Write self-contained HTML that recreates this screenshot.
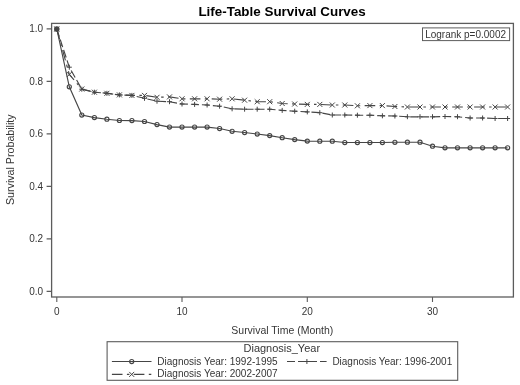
<!DOCTYPE html>
<html><head><meta charset="utf-8"><title>Life-Table Survival Curves</title>
<style>
html,body{margin:0;padding:0;background:#fff;overflow:hidden;}
svg{display:block;filter:grayscale(1) blur(0.3px);font-family:"Liberation Sans",sans-serif;}
</style></head>
<body>
<svg width="520" height="385" viewBox="0 0 520 385">
<rect x="0" y="0" width="520" height="385" fill="#fff"/>
<rect x="51.6" y="23.4" width="461.79999999999995" height="273.6" fill="#fff" stroke="#5c5c5c" stroke-width="1.3"/>
<path d="M46.6 291.4H51.6M46.6 238.9H51.6M46.6 186.4H51.6M46.6 133.9H51.6M46.6 81.4H51.6M46.6 28.9H51.6M56.8 297.0V302.0M182.0 297.0V302.0M307.3 297.0V302.0M432.5 297.0V302.0" stroke="#5c5c5c" stroke-width="1.1" fill="none"/>
<text x="43.2" y="294.8" text-anchor="end" font-size="10" fill="#363636">0.0</text>
<text x="43.2" y="242.3" text-anchor="end" font-size="10" fill="#363636">0.2</text>
<text x="43.2" y="189.8" text-anchor="end" font-size="10" fill="#363636">0.4</text>
<text x="43.2" y="137.3" text-anchor="end" font-size="10" fill="#363636">0.6</text>
<text x="43.2" y="84.8" text-anchor="end" font-size="10" fill="#363636">0.8</text>
<text x="43.2" y="32.3" text-anchor="end" font-size="10" fill="#363636">1.0</text>
<text x="56.8" y="314.6" text-anchor="middle" font-size="10" fill="#363636">0</text>
<text x="182.0" y="314.6" text-anchor="middle" font-size="10" fill="#363636">10</text>
<text x="307.3" y="314.6" text-anchor="middle" font-size="10" fill="#363636">20</text>
<text x="432.5" y="314.6" text-anchor="middle" font-size="10" fill="#363636">30</text>
<polyline points="56.8,29.0 69.3,86.8 81.8,115.1 94.4,117.6 106.9,119.2 119.4,120.5 131.9,120.6 144.5,121.5 157.0,124.6 169.5,127.1 182.0,127.1 194.6,127.1 207.1,127.1 219.6,128.5 232.1,131.3 244.6,132.5 257.2,134.0 269.7,135.6 282.2,137.7 294.7,139.6 307.3,141.1 319.8,141.2 332.3,141.2 344.8,142.5 357.4,142.5 369.9,142.5 382.4,142.5 394.9,142.3 407.4,142.2 420.0,142.2 432.5,146.2 445.0,147.8 457.5,147.8 470.1,147.8 482.6,147.8 495.1,147.8 507.6,147.8" fill="none" stroke="#454545" stroke-width="1.15"/>
<polyline points="56.8,29.0 69.3,67.2 81.8,89.2 94.4,92.2 106.9,93.3 119.4,94.9 131.9,95.4 144.5,98.3 157.0,101.2 169.5,101.7 182.0,104.0 194.6,104.4 207.1,105.0 219.6,106.2 232.1,108.8 244.6,109.2 257.2,109.2 269.7,109.2 282.2,110.4 294.7,111.2 307.3,111.9 319.8,112.7 332.3,115.0 344.8,115.0 357.4,115.2 369.9,115.2 382.4,115.8 394.9,116.0 407.4,116.8 420.0,116.8 432.5,116.8 445.0,116.5 457.5,116.8 470.1,118.0 482.6,118.0 495.1,118.5 507.6,118.5" fill="none" stroke="#454545" stroke-width="1.15" stroke-dasharray="8 3"/>
<polyline points="56.8,29.0 69.3,74.5 81.8,89.0 94.4,92.2 106.9,93.3 119.4,94.9 131.9,95.4 144.5,95.4 157.0,97.3 169.5,96.9 182.0,98.8 194.6,98.8 207.1,98.8 219.6,99.2 232.1,98.8 244.6,100.2 257.2,101.7 269.7,101.7 282.2,103.5 294.7,104.0 307.3,104.4 319.8,104.4 332.3,105.0 344.8,105.0 357.4,105.8 369.9,105.6 382.4,105.6 394.9,106.5 407.4,107.0 420.0,107.0 432.5,107.0 445.0,107.0 457.5,107.0 470.1,107.0 482.6,107.0 495.1,107.0 507.6,107.0" fill="none" stroke="#454545" stroke-width="1.15" stroke-dasharray="10.6 4.4 2.5 4.4"/>
<circle cx="56.8" cy="29.0" r="2.05" fill="none" stroke="#454545" stroke-width="1.15"/><circle cx="69.3" cy="86.8" r="2.05" fill="none" stroke="#454545" stroke-width="1.15"/><circle cx="81.8" cy="115.1" r="2.05" fill="none" stroke="#454545" stroke-width="1.15"/><circle cx="94.4" cy="117.6" r="2.05" fill="none" stroke="#454545" stroke-width="1.15"/><circle cx="106.9" cy="119.2" r="2.05" fill="none" stroke="#454545" stroke-width="1.15"/><circle cx="119.4" cy="120.5" r="2.05" fill="none" stroke="#454545" stroke-width="1.15"/><circle cx="131.9" cy="120.6" r="2.05" fill="none" stroke="#454545" stroke-width="1.15"/><circle cx="144.5" cy="121.5" r="2.05" fill="none" stroke="#454545" stroke-width="1.15"/><circle cx="157.0" cy="124.6" r="2.05" fill="none" stroke="#454545" stroke-width="1.15"/><circle cx="169.5" cy="127.1" r="2.05" fill="none" stroke="#454545" stroke-width="1.15"/><circle cx="182.0" cy="127.1" r="2.05" fill="none" stroke="#454545" stroke-width="1.15"/><circle cx="194.6" cy="127.1" r="2.05" fill="none" stroke="#454545" stroke-width="1.15"/><circle cx="207.1" cy="127.1" r="2.05" fill="none" stroke="#454545" stroke-width="1.15"/><circle cx="219.6" cy="128.5" r="2.05" fill="none" stroke="#454545" stroke-width="1.15"/><circle cx="232.1" cy="131.3" r="2.05" fill="none" stroke="#454545" stroke-width="1.15"/><circle cx="244.6" cy="132.5" r="2.05" fill="none" stroke="#454545" stroke-width="1.15"/><circle cx="257.2" cy="134.0" r="2.05" fill="none" stroke="#454545" stroke-width="1.15"/><circle cx="269.7" cy="135.6" r="2.05" fill="none" stroke="#454545" stroke-width="1.15"/><circle cx="282.2" cy="137.7" r="2.05" fill="none" stroke="#454545" stroke-width="1.15"/><circle cx="294.7" cy="139.6" r="2.05" fill="none" stroke="#454545" stroke-width="1.15"/><circle cx="307.3" cy="141.1" r="2.05" fill="none" stroke="#454545" stroke-width="1.15"/><circle cx="319.8" cy="141.2" r="2.05" fill="none" stroke="#454545" stroke-width="1.15"/><circle cx="332.3" cy="141.2" r="2.05" fill="none" stroke="#454545" stroke-width="1.15"/><circle cx="344.8" cy="142.5" r="2.05" fill="none" stroke="#454545" stroke-width="1.15"/><circle cx="357.4" cy="142.5" r="2.05" fill="none" stroke="#454545" stroke-width="1.15"/><circle cx="369.9" cy="142.5" r="2.05" fill="none" stroke="#454545" stroke-width="1.15"/><circle cx="382.4" cy="142.5" r="2.05" fill="none" stroke="#454545" stroke-width="1.15"/><circle cx="394.9" cy="142.3" r="2.05" fill="none" stroke="#454545" stroke-width="1.15"/><circle cx="407.4" cy="142.2" r="2.05" fill="none" stroke="#454545" stroke-width="1.15"/><circle cx="420.0" cy="142.2" r="2.05" fill="none" stroke="#454545" stroke-width="1.15"/><circle cx="432.5" cy="146.2" r="2.05" fill="none" stroke="#454545" stroke-width="1.15"/><circle cx="445.0" cy="147.8" r="2.05" fill="none" stroke="#454545" stroke-width="1.15"/><circle cx="457.5" cy="147.8" r="2.05" fill="none" stroke="#454545" stroke-width="1.15"/><circle cx="470.1" cy="147.8" r="2.05" fill="none" stroke="#454545" stroke-width="1.15"/><circle cx="482.6" cy="147.8" r="2.05" fill="none" stroke="#454545" stroke-width="1.15"/><circle cx="495.1" cy="147.8" r="2.05" fill="none" stroke="#454545" stroke-width="1.15"/><circle cx="507.6" cy="147.8" r="2.05" fill="none" stroke="#454545" stroke-width="1.15"/>
<path d="M54.3 29.0H59.3M56.8 26.5V31.5M66.8 67.2H71.8M69.3 64.7V69.7M79.3 89.2H84.3M81.8 86.7V91.7M91.9 92.2H96.9M94.4 89.7V94.7M104.4 93.3H109.4M106.9 90.8V95.8M116.9 94.9H121.9M119.4 92.4V97.4M129.4 95.4H134.4M131.9 92.9V97.9M142.0 98.3H147.0M144.5 95.8V100.8M154.5 101.2H159.5M157.0 98.7V103.7M167.0 101.7H172.0M169.5 99.2V104.2M179.5 104.0H184.5M182.0 101.5V106.5M192.1 104.4H197.1M194.6 101.9V106.9M204.6 105.0H209.6M207.1 102.5V107.5M217.1 106.2H222.1M219.6 103.7V108.7M229.6 108.8H234.6M232.1 106.3V111.3M242.1 109.2H247.1M244.6 106.7V111.7M254.7 109.2H259.7M257.2 106.7V111.7M267.2 109.2H272.2M269.7 106.7V111.7M279.7 110.4H284.7M282.2 107.9V112.9M292.2 111.2H297.2M294.7 108.7V113.7M304.8 111.9H309.8M307.3 109.4V114.4M317.3 112.7H322.3M319.8 110.2V115.2M329.8 115.0H334.8M332.3 112.5V117.5M342.3 115.0H347.3M344.8 112.5V117.5M354.9 115.2H359.9M357.4 112.7V117.7M367.4 115.2H372.4M369.9 112.7V117.7M379.9 115.8H384.9M382.4 113.3V118.3M392.4 116.0H397.4M394.9 113.5V118.5M404.9 116.8H409.9M407.4 114.2V119.2M417.5 116.8H422.5M420.0 114.2V119.2M430.0 116.8H435.0M432.5 114.2V119.2M442.5 116.5H447.5M445.0 114.0V119.0M455.0 116.8H460.0M457.5 114.2V119.2M467.6 118.0H472.6M470.1 115.5V120.5M480.1 118.0H485.1M482.6 115.5V120.5M492.6 118.5H497.6M495.1 116.0V121.0M505.1 118.5H510.1M507.6 116.0V121.0" stroke="#454545" stroke-width="1" fill="none"/>
<path d="M54.3 26.5L59.3 31.5M54.3 31.5L59.3 26.5M66.8 72.0L71.8 77.0M66.8 77.0L71.8 72.0M79.3 86.5L84.3 91.5M79.3 91.5L84.3 86.5M91.9 89.7L96.9 94.7M91.9 94.7L96.9 89.7M104.4 90.8L109.4 95.8M104.4 95.8L109.4 90.8M116.9 92.4L121.9 97.4M116.9 97.4L121.9 92.4M129.4 92.9L134.4 97.9M129.4 97.9L134.4 92.9M142.0 92.9L147.0 97.9M142.0 97.9L147.0 92.9M154.5 94.8L159.5 99.8M154.5 99.8L159.5 94.8M167.0 94.4L172.0 99.4M167.0 99.4L172.0 94.4M179.5 96.3L184.5 101.3M179.5 101.3L184.5 96.3M192.1 96.3L197.1 101.3M192.1 101.3L197.1 96.3M204.6 96.3L209.6 101.3M204.6 101.3L209.6 96.3M217.1 96.7L222.1 101.7M217.1 101.7L222.1 96.7M229.6 96.3L234.6 101.3M229.6 101.3L234.6 96.3M242.1 97.7L247.1 102.7M242.1 102.7L247.1 97.7M254.7 99.2L259.7 104.2M254.7 104.2L259.7 99.2M267.2 99.2L272.2 104.2M267.2 104.2L272.2 99.2M279.7 101.0L284.7 106.0M279.7 106.0L284.7 101.0M292.2 101.5L297.2 106.5M292.2 106.5L297.2 101.5M304.8 101.9L309.8 106.9M304.8 106.9L309.8 101.9M317.3 101.9L322.3 106.9M317.3 106.9L322.3 101.9M329.8 102.5L334.8 107.5M329.8 107.5L334.8 102.5M342.3 102.5L347.3 107.5M342.3 107.5L347.3 102.5M354.9 103.3L359.9 108.3M354.9 108.3L359.9 103.3M367.4 103.1L372.4 108.1M367.4 108.1L372.4 103.1M379.9 103.1L384.9 108.1M379.9 108.1L384.9 103.1M392.4 104.0L397.4 109.0M392.4 109.0L397.4 104.0M404.9 104.5L409.9 109.5M404.9 109.5L409.9 104.5M417.5 104.5L422.5 109.5M417.5 109.5L422.5 104.5M430.0 104.5L435.0 109.5M430.0 109.5L435.0 104.5M442.5 104.5L447.5 109.5M442.5 109.5L447.5 104.5M455.0 104.5L460.0 109.5M455.0 109.5L460.0 104.5M467.6 104.5L472.6 109.5M467.6 109.5L472.6 104.5M480.1 104.5L485.1 109.5M480.1 109.5L485.1 104.5M492.6 104.5L497.6 109.5M492.6 109.5L497.6 104.5M505.1 104.5L510.1 109.5M505.1 109.5L510.1 104.5" stroke="#454545" stroke-width="1" fill="none"/>
<rect x="54.5" y="26.7" width="4.6" height="4.6" fill="#454545"/>
<text x="282.1" y="15.7" text-anchor="middle" font-size="13.4" font-weight="bold" fill="#000" textLength="167.3" lengthAdjust="spacingAndGlyphs">Life-Table Survival Curves</text>
<text x="282.3" y="333.6" text-anchor="middle" font-size="10.5" fill="#363636" textLength="102" lengthAdjust="spacingAndGlyphs">Survival Time (Month)</text>
<text transform="translate(13.6 159.7) rotate(-90)" text-anchor="middle" font-size="10.67" fill="#363636" textLength="90.7" lengthAdjust="spacingAndGlyphs">Survival Probability</text>
<rect x="422.5" y="27.9" width="87.1" height="12.7" fill="#fff" stroke="#5c5c5c" stroke-width="1"/>
<text x="425.2" y="38.4" font-size="10" fill="#363636" textLength="80.8" lengthAdjust="spacingAndGlyphs">Logrank p=0.0002</text>
<rect x="107.1" y="341.7" width="350.6" height="38.6" fill="#fff" stroke="#5c5c5c" stroke-width="1.1"/>
<text x="281.8" y="352.3" text-anchor="middle" font-size="11" fill="#363636" textLength="76.5" lengthAdjust="spacingAndGlyphs">Diagnosis_Year</text>
<path d="M111.9 361.5H151.5" stroke="#454545" stroke-width="1.15"/>
<circle cx="131.7" cy="361.5" r="2.05" fill="none" stroke="#454545" stroke-width="1.15"/>
<text x="157.3" y="364.6" font-size="10" fill="#363636" textLength="120.3" lengthAdjust="spacingAndGlyphs">Diagnosis Year: 1992-1995</text>
<path d="M287 361.5H326.6" stroke="#454545" stroke-width="1.15" stroke-dasharray="8 3"/>
<path d="M304.4 361.5H309.4M306.9 359.0V364.0" stroke="#454545" stroke-width="1"/>
<text x="332.4" y="364.6" font-size="10" fill="#363636" textLength="119.8" lengthAdjust="spacingAndGlyphs">Diagnosis Year: 1996-2001</text>
<path d="M111.9 374.4H151.5" stroke="#454545" stroke-width="1.15" stroke-dasharray="10.6 4.4 2.5 4.4"/>
<path d="M129.2 371.9L134.2 376.9M129.2 376.9L134.2 371.9" stroke="#454545" stroke-width="1"/>
<text x="157.3" y="377.2" font-size="10" fill="#363636" textLength="120.3" lengthAdjust="spacingAndGlyphs">Diagnosis Year: 2002-2007</text>
</svg>
</body></html>
